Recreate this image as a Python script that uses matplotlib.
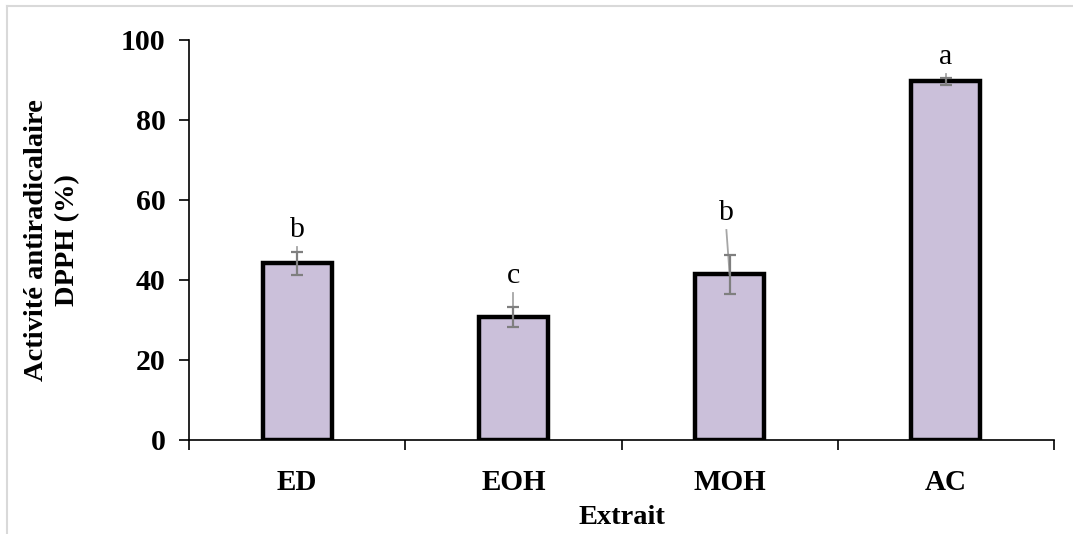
import matplotlib
matplotlib.use("Agg")
import matplotlib.pyplot as plt
from matplotlib.lines import Line2D
import numpy as np

# DPPH radical scavenging per extract
extraits = ['ED', 'EOH', 'MOH', 'AC']
activite = [44.2, 30.8, 41.4, 89.7]
erreur = [2.9, 2.5, 4.9, 0.9]
lettres = ['b', 'c', 'b', 'a']
# label baseline heights (%) and small x shifts
lettre_y = [50.8, 39.2, 55.0, 94.0]
lettre_dx = [0.0, 0.0, -0.015, 0.0]

plt.rcParams['font.family'] = ['Liberation Serif', 'DejaVu Serif']

fig = plt.figure(figsize=(10.73, 5.34), dpi=100)
ax = fig.add_axes([189 / 1073, 1 - 440 / 534, 865 / 1073, 400 / 534])

x = np.arange(len(extraits))
ax.bar(x, activite, width=0.32, color='#CBC0DA', edgecolor='black', linewidth=3.2, zorder=2)

# leader lines from the letters down to the bars
for i in range(len(extraits)):
    ax.plot([x[i] + lettre_dx[i], x[i]], [lettre_y[i] - 2.5, activite[i]],
            color='#A6A6A6', lw=1.3, zorder=3)

ax.errorbar(x, activite, yerr=erreur, fmt='none', ecolor='#7F7F7F', elinewidth=1.6,
            capsize=4.6, capthick=1.6, zorder=4)

for i, l in enumerate(lettres):
    ax.text(x[i] + lettre_dx[i], lettre_y[i], l, ha='center', va='baseline', fontsize=21.5)

ax.set_xlim(-0.5, len(extraits) - 0.5)
ax.set_ylim(0, 100)
ax.set_yticks(np.arange(0, 101, 20))
ax.tick_params(axis='y', direction='out', length=7, width=1.2, labelsize=21.5, pad=10)
for t in ax.get_yticklabels():
    t.set_fontweight('bold')

# category boundaries as ticks, names in between
ax.set_xticks(np.arange(-0.5, len(extraits), 1.0))
ax.set_xticklabels([])
ax.set_xticks(x, minor=True)
ax.set_xticklabels(extraits, minor=True, fontsize=21, fontweight='bold')
ax.tick_params(axis='x', which='major', direction='out', length=7, width=1.2)
ax.tick_params(axis='x', which='minor', length=0, pad=21)

for s in ['top', 'right']:
    ax.spines[s].set_visible(False)
ax.spines['left'].set_linewidth(1.2)
ax.spines['bottom'].set_linewidth(1.2)

ax.set_xlabel('Extrait', fontsize=20.5, fontweight='bold', labelpad=6)
ax.set_ylabel('Activité antiradicalaire\nDPPH (%)', fontsize=20.5, fontweight='bold',
              labelpad=29, linespacing=1.35)

# light frame around the chart area
fig.add_artist(Line2D([7 / 1073, 1], [1 - 6 / 534, 1 - 6 / 534], color='#D9D9D9', lw=1.5))
fig.add_artist(Line2D([7 / 1073, 7 / 1073], [0, 1 - 6 / 534], color='#D9D9D9', lw=1.5))

fig.savefig('out.png', dpi=100)
